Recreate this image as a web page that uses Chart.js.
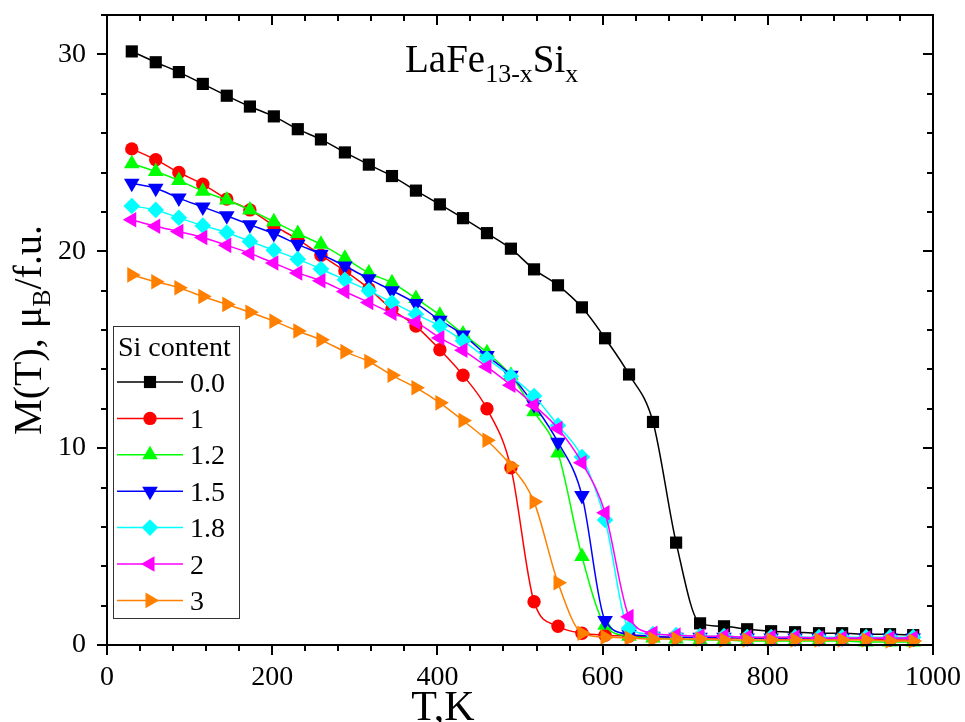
<!DOCTYPE html>
<html><head><meta charset="utf-8">
<script src="https://cdn.jsdelivr.net/npm/chart.js@4/dist/chart.umd.min.js"></script>
<style>html,body{margin:0;padding:0;background:#fff;overflow:hidden}#wrap{width:965px;height:722px;position:relative}</style>
</head><body><div id="wrap"><canvas id="c" width="965" height="722"></canvas></div>
<script>
// ---- data ----
const temperatures = [30, 59, 87, 116, 145, 173, 202, 231, 259, 288, 317, 345, 374, 403, 431, 460, 489, 517, 546, 575, 603, 632, 661, 689, 718, 747, 775, 804, 833, 862, 890, 919, 948, 976];
const mSi00 = [30.15, 29.6, 29.1, 28.5, 27.9, 27.35, 26.85, 26.2, 25.68, 25.02, 24.4, 23.82, 23.08, 22.38, 21.68, 20.92, 20.13, 19.08, 18.27, 17.15, 15.58, 13.74, 11.33, 5.2, 1.1, 0.95, 0.8, 0.7, 0.65, 0.6, 0.6, 0.55, 0.55, 0.5];
const mSi10 = [25.2, 24.65, 24.0, 23.4, 22.65, 22.1, 21.3, 20.6, 19.8, 19.0, 18.1, 17.05, 16.2, 15.0, 13.7, 12.0, 9.0, 2.2, 0.95, 0.6, 0.5, 0.45, 0.4, 0.4, 0.35, 0.35, 0.35, 0.3, 0.3, 0.3, 0.3, 0.3, 0.25, 0.25];
const mSi12 = [24.45, 24.05, 23.6, 23.05, 22.6, 22.1, 21.5, 20.9, 20.35, 19.65, 18.9, 18.4, 17.6, 16.75, 15.8, 14.85, 13.7, 11.85, 9.75, 4.5, 1.0, 0.45, 0.35, 0.3, 0.25, 0.25, 0.2, 0.2, 0.2, 0.2, 0.2, 0.15, 0.15, 0.15];
const mSi15 = [23.45, 23.2, 22.7, 22.25, 21.8, 21.35, 20.9, 20.35, 19.85, 19.25, 18.6, 18.0, 17.35, 16.5, 15.75, 14.7, 13.7, 12.2, 10.3, 7.6, 1.25, 0.55, 0.45, 0.4, 0.4, 0.4, 0.35, 0.35, 0.35, 0.35, 0.35, 0.35, 0.35, 0.35];
const mSi18 = [22.3, 22.1, 21.7, 21.3, 20.95, 20.5, 20.05, 19.6, 19.1, 18.55, 18.0, 17.4, 16.8, 16.2, 15.45, 14.55, 13.65, 12.65, 11.15, 9.55, 6.35, 0.85, 0.55, 0.5, 0.45, 0.45, 0.4, 0.4, 0.4, 0.4, 0.4, 0.4, 0.4, 0.4];
const mSi20 = [21.6, 21.27, 21.0, 20.7, 20.3, 19.9, 19.4, 18.9, 18.5, 17.95, 17.4, 16.85, 16.4, 15.6, 14.97, 14.13, 13.2, 12.18, 11.0, 9.26, 6.72, 1.44, 0.6, 0.5, 0.45, 0.45, 0.4, 0.4, 0.4, 0.35, 0.35, 0.35, 0.35, 0.35];
const mSi30 = [18.8, 18.45, 18.15, 17.7, 17.3, 16.9, 16.45, 15.95, 15.5, 14.9, 14.4, 13.7, 13.07, 12.3, 11.4, 10.4, 9.1, 7.27, 3.16, 0.6, 0.4, 0.35, 0.3, 0.3, 0.3, 0.25, 0.25, 0.25, 0.25, 0.25, 0.25, 0.25, 0.2, 0.2];
const seriesLabels = ['0.0', '1', '1.2', '1.5', '1.8', '2', '3'];
const seriesValues = [mSi00, mSi10, mSi12, mSi15, mSi18, mSi20, mSi30];
const xTickValues = [0, 200, 400, 600, 800, 1000];
const yTickValues = [0, 10, 20, 30];
const legendTitle = 'Si content';
const xTitle = 'T,K';

// ---- styles ----
const colors = ['#000000', '#FF0000', '#00FF00', '#0000FF', '#00FFFF', '#FF00FF', '#FF8000'];
const styles = ['rect', 'circle', 'triangle', 'triangle', 'rectRot', 'triangle', 'triangle'];
const rotations = [0, 0, 0, 180, 0, 270, 90];
const radii = [8.6, 6.7, 9, 9, 8.3, 9, 9];
const FONT = "'Liberation Serif', 'Times New Roman', serif";

const datasets = seriesValues.map((vals, i) => ({
  label: seriesLabels[i],
  data: temperatures.map((t, j) => ({x: t, y: vals[j]})),
  borderColor: colors[i],
  backgroundColor: colors[i],
  pointBackgroundColor: colors[i],
  pointBorderColor: colors[i],
  pointBorderWidth: 0,
  pointStyle: styles[i],
  pointRotation: rotations[i],
  pointRadius: radii[i],
  borderWidth: 1.5,
  cubicInterpolationMode: 'monotone',
  order: seriesValues.length - i,
  clip: false
}));

function drawMarker(ctx, i, x, y) {
  ctx.save();
  ctx.fillStyle = colors[i];
  ctx.strokeStyle = colors[i];
  Chart.helpers.drawPoint(ctx, {pointStyle: styles[i], rotation: rotations[i], radius: radii[i], borderWidth: 0}, x, y);
  ctx.restore();
}

function zeroPad(s) { s.paddingTop = 0; s.paddingBottom = 0; s.paddingLeft = 0; s.paddingRight = 0; }

const decorPlugin = {
  id: 'decor',
  afterDraw(chart) {
    const ctx = chart.ctx;
    const a = chart.chartArea;
    const xs = chart.scales.x, ys = chart.scales.y;
    ctx.save();
    // frame
    ctx.strokeStyle = '#000';
    ctx.lineWidth = 2;
    ctx.strokeRect(a.left, a.top, a.right - a.left, a.bottom - a.top);
    // ticks
    ctx.beginPath();
    for (let v = 0; v <= 1000; v += 40) {
      const major = xTickValues.includes(v);
      const px = Math.round(xs.getPixelForValue(v));
      const len = major ? 10 : 6;
      ctx.moveTo(px, a.bottom); ctx.lineTo(px, a.bottom + len);
      ctx.moveTo(px, a.top); ctx.lineTo(px, a.top + len);
    }
    for (let v = 0; v <= 32; v += 2) {
      const major = yTickValues.includes(v);
      const py = Math.round(ys.getPixelForValue(v));
      const len = major ? 10 : 6;
      ctx.moveTo(a.left, py); ctx.lineTo(a.left - len, py);
      ctx.moveTo(a.right, py); ctx.lineTo(a.right - len, py);
    }
    ctx.stroke();

    ctx.fillStyle = '#000';
    ctx.textBaseline = 'alphabetic';
    // chart title LaFe13-xSix
    let x = 405;
    const parts = [['LaFe', 39, 0], ['13-x', 26, 10], ['Si', 39, 0], ['x', 26, 10]];
    parts.forEach(p => {
      ctx.font = p[1] + 'px ' + FONT;
      ctx.fillText(p[0], x, 72 + p[2]);
      x += ctx.measureText(p[0]).width;
    });

    // x title
    ctx.font = '42px ' + FONT;
    ctx.textAlign = 'center';
    ctx.fillText(xTitle, 443, 720);
    ctx.textAlign = 'left';

    // y title M(T), μB/f.u.
    ctx.save();
    ctx.translate(41, 330);
    ctx.rotate(-Math.PI / 2);
    const yparts = [['M(T), \u03bc', 40, 0], ['B', 26, 9], ['/f.u.', 40, 0]];
    let tw = 0;
    yparts.forEach(p => { ctx.font = p[1] + 'px ' + FONT; tw += ctx.measureText(p[0]).width; });
    let yx = -tw / 2;
    yparts.forEach(p => {
      ctx.font = p[1] + 'px ' + FONT;
      ctx.fillText(p[0], yx, p[2]);
      yx += ctx.measureText(p[0]).width;
    });
    ctx.restore();

    // legend
    const L = 113, R = 239, T = 326, B = 618;
    ctx.fillStyle = '#fff';
    ctx.fillRect(L, T, R - L, B - T);
    ctx.strokeStyle = '#333';
    ctx.lineWidth = 1;
    ctx.strokeRect(L + 0.5, T + 0.5, R - L, B - T);
    ctx.fillStyle = '#000';
    ctx.font = '28px ' + FONT;
    ctx.fillText(legendTitle, 118, 356);
    seriesLabels.forEach((lab, i) => {
      const cy = 382 + i * 36.4;
      ctx.strokeStyle = colors[i];
      ctx.lineWidth = 1.5;
      ctx.beginPath();
      ctx.moveTo(117, cy); ctx.lineTo(183, cy);
      ctx.stroke();
      drawMarker(ctx, i, 150, cy);
      ctx.fillStyle = '#000';
      ctx.font = '28px ' + FONT;
      ctx.fillText(lab, 190, cy + 9.5);
    });
    ctx.restore();
  }
};

new Chart(document.getElementById('c'), {
  type: 'line',
  data: {datasets},
  options: {
    responsive: false,
    animation: false,
    events: [],
    layout: {padding: {top: 15, right: 32, left: 0, bottom: 0}},
    plugins: {legend: {display: false}, tooltip: {enabled: false}, title: {display: false}},
    scales: {
      x: {
        type: 'linear', min: 0, max: 1000,
        grid: {display: false, drawTicks: false},
        border: {display: false},
        afterBuildTicks: s => { s.ticks = xTickValues.map(v => ({value: v})); },
        afterFit: s => { s.height = 77; zeroPad(s); },
        ticks: {color: '#000', font: {family: FONT, size: 28}, padding: 16, maxRotation: 0, autoSkip: false, callback: v => String(v)}
      },
      y: {
        type: 'linear', min: 0, max: 32,
        grid: {display: false, drawTicks: false},
        border: {display: false},
        afterBuildTicks: s => { s.ticks = yTickValues.map(v => ({value: v})); },
        afterFit: s => { s.width = 107; zeroPad(s); },
        ticks: {color: '#000', font: {family: FONT, size: 28}, padding: 21, autoSkip: false, callback: v => String(v)}
      }
    }
  },
  plugins: [decorPlugin]
});
</script>
</body></html>
